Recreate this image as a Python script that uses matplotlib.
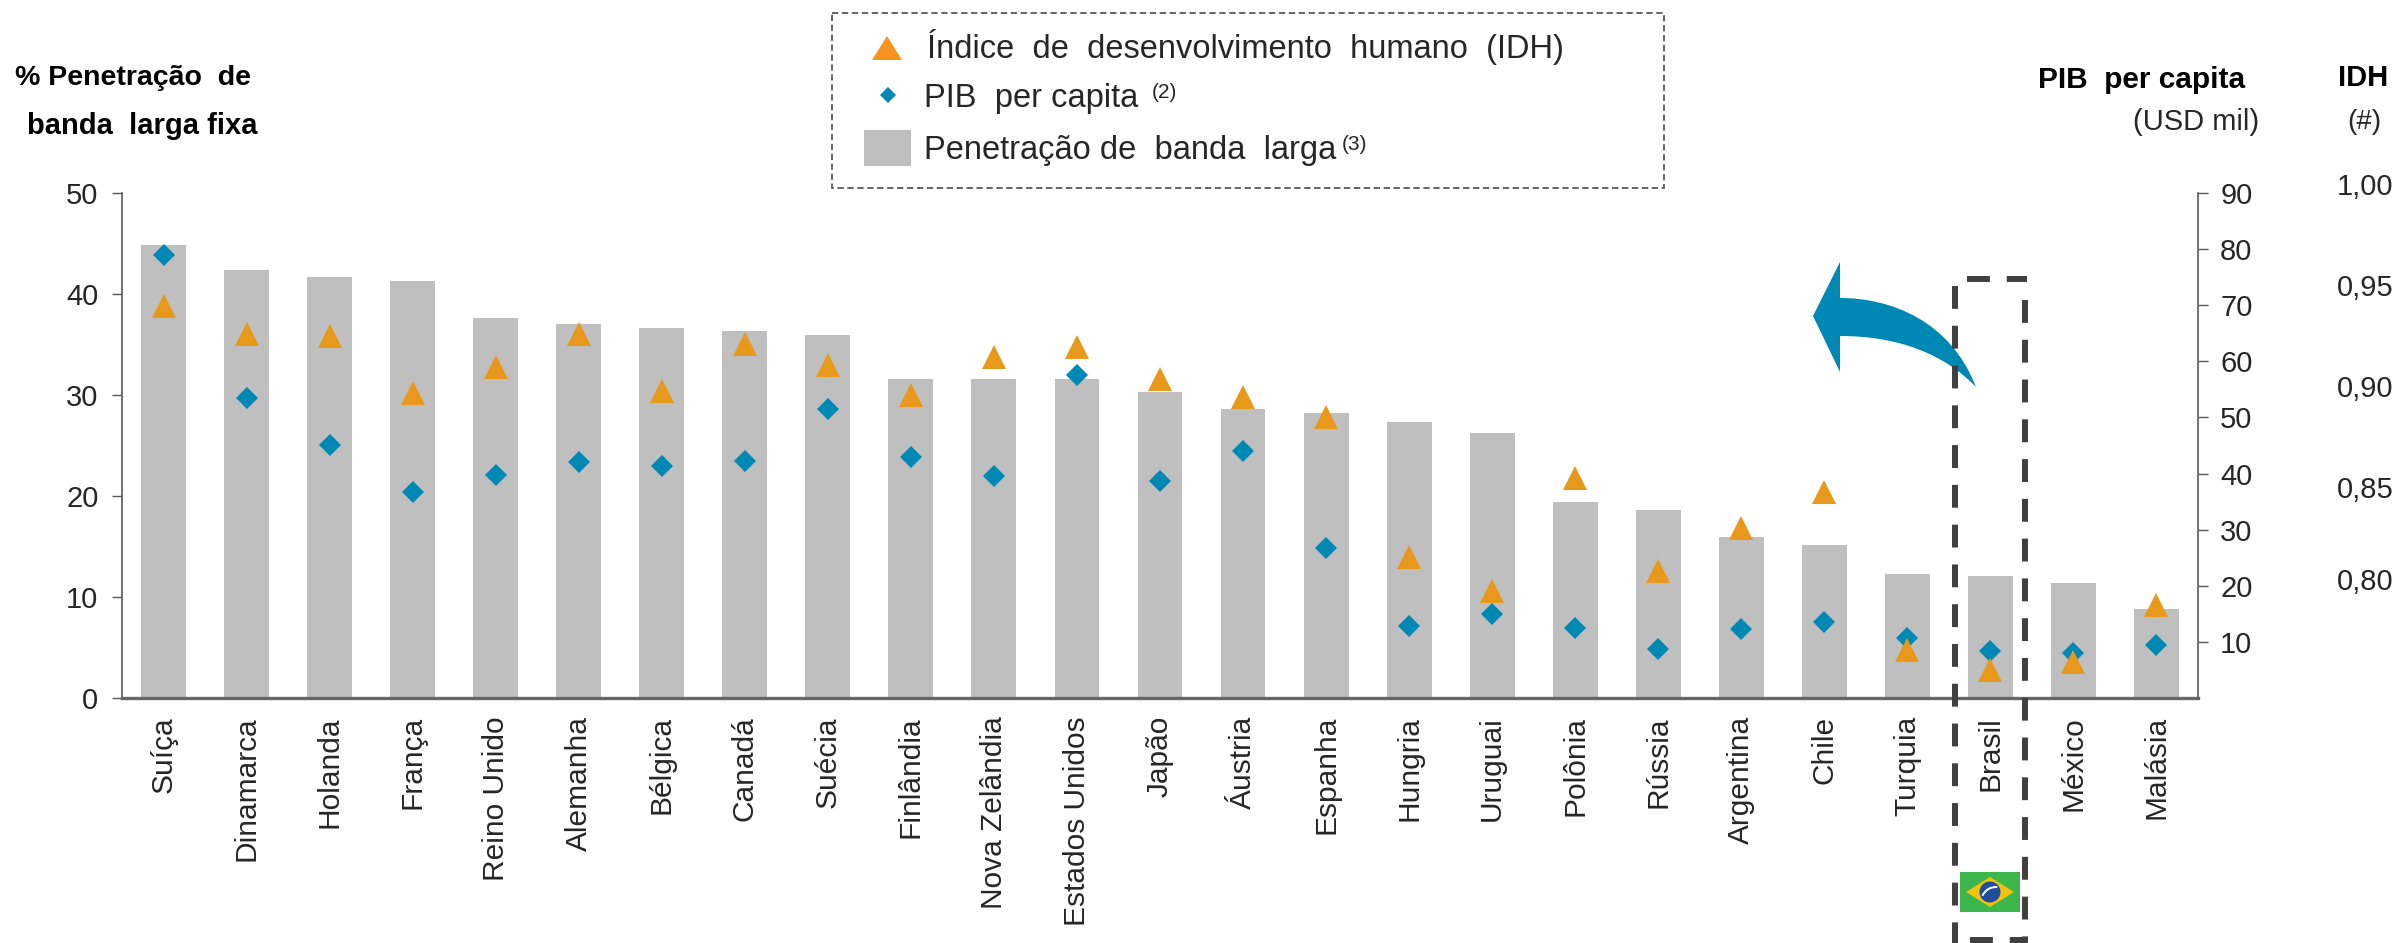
import matplotlib
matplotlib.use("Agg")
import matplotlib.pyplot as plt
from matplotlib.patches import Rectangle, Polygon, PathPatch, Circle, Wedge
from matplotlib.path import Path

plt.rcParams["font.family"] = ["Liberation Sans", "DejaVu Sans"]

paises = ["Suíça", "Dinamarca", "Holanda", "França", "Reino Unido", "Alemanha", "Bélgica",
          "Canadá", "Suécia", "Finlândia", "Nova Zelândia", "Estados Unidos", "Japão", "Áustria",
          "Espanha", "Hungria", "Uruguai", "Polônia", "Rússia", "Argentina", "Chile", "Turquia",
          "Brasil", "México", "Malásia"]
penetracao = [44.85, 42.4, 41.7, 41.3, 37.6, 37.0, 36.6, 36.3, 35.9, 31.6, 31.6, 31.6, 30.3,
              28.6, 28.2, 27.3, 26.2, 19.4, 18.6, 15.9, 15.1, 12.3, 12.1, 11.4, 8.8]
pib = [79, 53.4, 45, 36.8, 39.8, 42, 41.4, 42.3, 51.5, 43, 39.5, 57.5, 38.7,
       44, 26.7, 12.8, 15, 12.5, 8.7, 12.3, 13.6, 10.7, 8.4, 8.1, 9.4]
idh = [0.944, 0.930, 0.929, 0.901, 0.914, 0.930, 0.902, 0.925, 0.915, 0.900, 0.919, 0.924, 0.908,
       0.899, 0.889, 0.820, 0.803, 0.859, 0.813, 0.834, 0.852, 0.774, 0.764, 0.768, 0.796]
ticks_penetracao = [0, 10, 20, 30, 40, 50]
ticks_pib = [10, 20, 30, 40, 50, 60, 70, 80, 90]
labels_idh = ["1,00", "0,95", "0,90", "0,85", "0,80"]
y_labels_idh = [187, 288, 389, 490, 582]

CINZA = "#BFBFBF"
AZUL = "#0088B4"
LARANJA = "#E8981A"
EIXO = "#595959"
TEXTO = "#262626"
TRACO = (0, (3.83, 2.83))

W, H = 2400, 943
fig = plt.figure(figsize=(W / 100, H / 100), dpi=100)
ax = fig.add_axes([122 / W, (H - 698) / H, 2076 / W, 505 / H])
x = list(range(len(paises)))

ax.bar(x, penetracao, width=0.54, color=CINZA)
ax.set_xlim(-0.5, 24.5)
ax.set_ylim(0, 50)
ax.set_yticks(ticks_penetracao)
ax.set_xticks(x)
ax.set_xticklabels(paises, rotation=90, fontsize=21.5, color=TEXTO)
ax.tick_params(axis="x", length=0, pad=13)
ax.tick_params(axis="y", length=7, width=1, color=EIXO, labelsize=21, labelcolor=TEXTO, pad=10)
ax.spines["top"].set_visible(False)
ax.spines["right"].set_visible(False)
ax.spines["left"].set_color(EIXO)
ax.spines["left"].set_linewidth(1.2)
ax.spines["bottom"].set_color("#666666")
ax.spines["bottom"].set_linewidth(2.4)

ax2 = ax.twinx()
ax2.set_ylim(0, 90)
ax2.set_yticks(ticks_pib)
ax2.tick_params(axis="y", length=7, width=1, color=EIXO, labelsize=21, labelcolor=TEXTO, pad=9)
ax2.plot(x, pib, linestyle="none", marker="D", markersize=11, color=AZUL, markeredgewidth=0)
for lado in ["top", "left", "bottom"]:
    ax2.spines[lado].set_visible(False)
ax2.spines["right"].set_color(EIXO)
ax2.spines["right"].set_linewidth(1.2)

ax3 = ax.twinx()
ax3.set_ylim(0.75, 1.0)
ax3.axis("off")
ax3.plot(x, idh, linestyle="none", marker="^", markersize=17.5, color=LARANJA, markeredgewidth=0)

# camada em pixels para legenda, titulos e destaque do Brasil
ov = fig.add_axes([0, 0, 1, 1])
ov.set_xlim(0, W)
ov.set_ylim(H, 0)
ov.axis("off")

ov.text(133, 78, "% Penetração  de", fontsize=20.5, fontweight="bold", ha="center", va="center", color="black")
ov.text(142, 126, "banda  larga fixa", fontsize=21, fontweight="bold", ha="center", va="center", color="black")
ov.text(2245, 80, "PIB  per capita", fontsize=21.5, fontweight="bold", ha="right", va="center", color="black")
ov.text(2259, 122, "(USD mil)", fontsize=21, ha="right", va="center", color=TEXTO)
ov.text(2363, 78, "IDH", fontsize=21, fontweight="bold", ha="center", va="center", color="black")
ov.text(2364, 122, "(#)", fontsize=20, ha="center", va="center", color=TEXTO)
for lab, yy in zip(labels_idh, y_labels_idh):
    ov.text(2365, yy, lab, fontsize=21, ha="center", va="center", color=TEXTO)

# legenda
ov.add_patch(Rectangle((832, 13), 832, 175, fill=False, edgecolor="#595959", linewidth=1.3,
                       linestyle=(0, (3.5, 2))))
ov.add_patch(Polygon([(872, 60), (902, 60), (887, 36)], color="#F7931E", linewidth=0))
ov.add_patch(Polygon([(888, 87), (896, 95), (888, 103), (880, 95)], color=AZUL, linewidth=0))
ov.add_patch(Rectangle((864, 130), 47, 36, color=CINZA, linewidth=0))
ov.text(927, 47, "Índice  de  desenvolvimento  humano  (IDH)", fontsize=23.5, ha="left", va="center", color=TEXTO)
ov.text(924, 98, "PIB  per capita", fontsize=23.5, ha="left", va="center", color=TEXTO)
ov.text(1152, 92, "(2)", fontsize=15, ha="left", va="center", color=TEXTO)
ov.text(924, 150, "Penetração de  banda  larga", fontsize=23.5, ha="left", va="center", color=TEXTO)
ov.text(1342, 145, "(3)", fontsize=15, ha="left", va="center", color=TEXTO)

# seta azul
seta = Path(
    [(1813, 316), (1840, 262), (1840, 298), (1890, 298), (1950, 320), (1976, 387),
     (1945, 355), (1900, 336), (1840, 336), (1840, 372), (1813, 316)],
    [Path.MOVETO, Path.LINETO, Path.LINETO, Path.CURVE4, Path.CURVE4, Path.CURVE4,
     Path.CURVE4, Path.CURVE4, Path.CURVE4, Path.LINETO, Path.CLOSEPOLY],
)
ov.add_patch(PathPatch(seta, facecolor=AZUL, edgecolor="none"))

# caixa tracejada do Brasil
ov.plot([1955, 1955], [286, 943], color="#404040", linewidth=4.3, linestyle=TRACO)
ov.plot([2025, 2025], [300, 943], color="#404040", linewidth=4.3, linestyle=TRACO)
ov.plot([1967, 2027], [279, 279], color="#404040", linewidth=4.3, linestyle=TRACO)
ov.plot([1970, 2027], [940, 940], color="#404040", linewidth=4.3, linestyle=TRACO)

# bandeira
ov.add_patch(Rectangle((1960, 872), 60, 40, color="#3CB54A", linewidth=0))
ov.add_patch(Polygon([(1966, 892), (1990, 877), (2014, 892), (1990, 907)], color="#F4C20D", linewidth=0))
ov.add_patch(Circle((1990, 892), 10.5, color="#1F4E9E", linewidth=0))
ov.add_patch(Wedge((1996, 902), 16, 205, 275, width=2, color="white", linewidth=0))

fig.savefig("out.png", dpi=100)
